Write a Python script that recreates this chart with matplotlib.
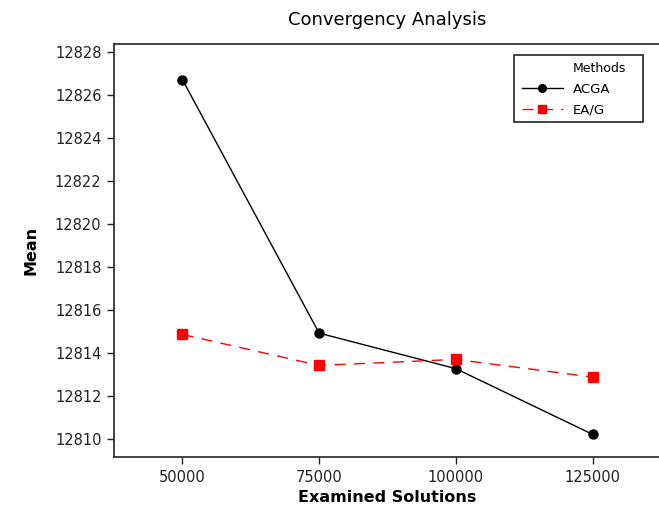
import matplotlib
matplotlib.use("Agg")
import matplotlib.pyplot as plt
from matplotlib.patches import Rectangle

# values
solutions = [50000, 75000, 100000, 125000]
acga = [12826.70, 12814.93, 12813.28, 12810.23]
eag = [12814.87, 12813.43, 12813.71, 12812.89]
y_ticks = list(range(12810, 12829, 2))

plt.rcParams['font.family'] = ['DejaVu Sans']

fig = plt.figure(figsize=(6.59, 5.09), dpi=100)
W, H = 659, 509
# axes box in pixels: left 114, right 661, top 44, bottom 457
ax = fig.add_axes([114 / W, 1 - 457 / H, (661 - 114) / W, (457 - 44) / H])

ax.plot(solutions, acga, color='black', lw=1.0, marker='o', ms=6.5,
        label='ACGA')
ax.plot(solutions, eag, color='red', lw=1.0, ls=(0, (8, 6)), marker='s',
        ms=7, label='EA/G')

ax.set_xlim(37500, 137500)
ax.set_ylim(12809.18, 12828.35)
ax.set_xticks(solutions)
ax.set_xticklabels([str(s) for s in solutions])
ax.set_yticks(y_ticks)
ax.tick_params(direction='out', length=5, width=1, labelsize=10.5,
               colors='#222222', pad=4)
for s in ax.spines.values():
    s.set_linewidth(1.2)
    s.set_color('#222222')

ax.set_title('Convergency Analysis', fontsize=13, pad=14)
ax.set_xlabel('Examined Solutions', fontsize=11.5, fontweight='bold',
              labelpad=4)
ax.set_ylabel('Mean', fontsize=11.5, fontweight='bold', labelpad=12)

# legend: frame and title placed by hand to match the Minitab layout
frame = Rectangle((514 / W, 1 - 122 / H), 129 / W, 67 / H,
                  transform=fig.transFigure, facecolor='white',
                  edgecolor='#222222', lw=1.2, clip_on=False, zorder=4.5)
ax.add_patch(frame)

leg = ax.legend(loc='upper left', bbox_to_anchor=(522 / W, 1 - 83 / H),
                bbox_transform=fig.transFigure, fontsize=9.5, frameon=False,
                handlelength=3.1, borderpad=0, labelspacing=0.58,
                handletextpad=0.75, borderaxespad=0, markerscale=0.85)
leg.set_zorder(5)

fig.canvas.draw()
lab = leg.get_texts()[0].get_window_extent()
ax.text(lab.x0 / W, 1 - 68 / H, 'Methods', fontsize=9, ha='left',
        va='center', transform=fig.transFigure, zorder=6)

fig.savefig('out.png', dpi=100)
